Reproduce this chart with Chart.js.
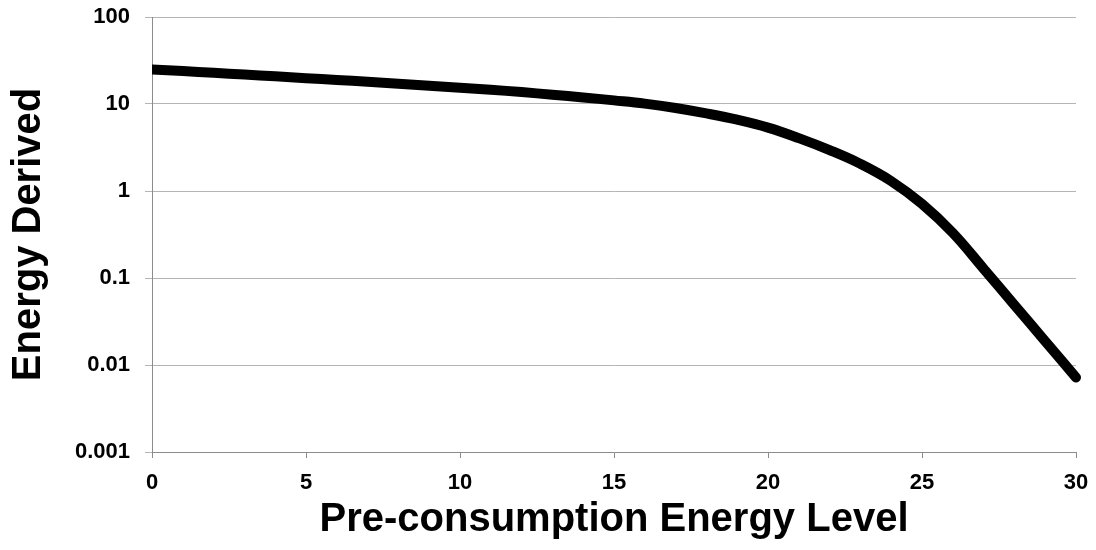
<!DOCTYPE html>
<html>
<head>
<meta charset="utf-8">
<script src="https://cdn.jsdelivr.net/npm/chart.js@4/dist/chart.umd.min.js"></script>
<style>
  html, body { margin: 0; padding: 0; background: #fff; }
  #wrap { width: 1096px; height: 550px; position: relative; }
</style>
</head>
<body>
<div id="wrap"><canvas id="chart"></canvas></div>
<script>
// Data
const energyLevels = [0, 1, 2, 3, 4, 5, 6, 7, 8, 9, 10, 11, 12, 13, 14, 15,
  16, 17, 18, 19, 20, 21, 22, 23, 24, 25, 26, 27, 28, 29, 30];
const energyDerived = [25.0, 23.9, 22.8, 21.8, 20.8, 19.8, 18.9, 18.0, 17.1, 16.2, 15.4,
  14.6, 13.7, 12.8, 11.9, 11.0, 10.1, 9.0, 7.8, 6.6, 5.35,
  4.05, 2.95, 2.05, 1.30, 0.71, 0.33, 0.128, 0.049, 0.0188, 0.0072];
const yTicks = [0.001, 0.01, 0.1, 1, 10, 100];
const yTickLabels = ['0.001', '0.01', '0.1', '1', '10', '100'];
const xTicks = [0, 5, 10, 15, 20, 25, 30];

const FONT = '"Liberation Sans", Arial, sans-serif';

const ctx = document.getElementById('chart').getContext('2d');
new Chart(ctx, {
  type: 'line',
  data: {
    datasets: [{
      data: energyLevels.map((x, i) => ({ x: x, y: energyDerived[i] })),
      borderColor: '#000',
      borderWidth: 10,
      borderCapStyle: 'round',
      borderJoinStyle: 'round',
      tension: 0.4,
      pointRadius: 0,
      fill: false,
      clip: { left: 0, right: 10, top: 10, bottom: 10 }
    }]
  },
  options: {
    responsive: true,
    maintainAspectRatio: false,
    animation: false,
    layout: { padding: { top: 17, right: 20, left: 0, bottom: 0 } },
    plugins: { legend: { display: false }, tooltip: { enabled: false } },
    scales: {
      x: {
        type: 'linear',
        min: 0,
        max: 30,
        afterBuildTicks: s => { s.ticks = xTicks.map(v => ({ value: v })); },
        afterFit: s => {
          s.height = 98;
          s.paddingLeft = 0; s.paddingRight = 0;
        },
        grid: { drawOnChartArea: false, drawTicks: true, tickLength: 6, color: '#8c8c8c' },
        border: { display: true, color: '#8c8c8c', width: 1 },
        ticks: { color: '#000', font: { family: FONT, size: 22, weight: 'bold' }, padding: 12, maxRotation: 0 },
        title: {
          display: true,
          text: 'Pre-consumption Energy Level',
          color: '#000',
          font: { family: FONT, size: 40, weight: 'bold', lineHeight: 1.2 },
          padding: { top: 0, bottom: 6 }
        }
      },
      y: {
        type: 'logarithmic',
        min: 0.001,
        max: 100,
        afterBuildTicks: s => { s.ticks = yTicks.map(v => ({ value: v })); },
        afterFit: s => {
          s.width = 152;
          s.paddingTop = 0; s.paddingBottom = 0;
        },
        grid: { color: '#b4b4b4', tickLength: 7, lineWidth: 1 },
        border: { display: true, color: '#8c8c8c', width: 1 },
        ticks: {
          color: '#000',
          font: { family: FONT, size: 22, weight: 'bold' },
          padding: 15,
          callback: (v, i) => yTickLabels[i]
        },
        title: {
          display: true,
          text: 'Energy Derived',
          color: '#000',
          font: { family: FONT, size: 40, weight: 'bold', lineHeight: 1.2 },
          padding: { top: 5, bottom: 0 }
        }
      }
    }
  }
});
</script>
</body>
</html>
